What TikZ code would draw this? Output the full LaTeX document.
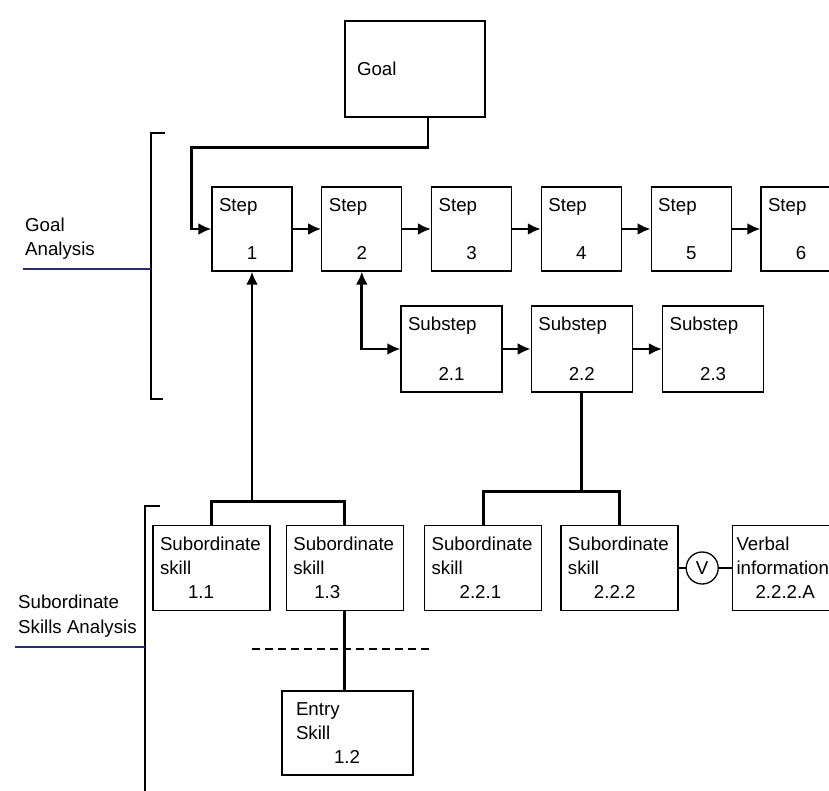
\documentclass[tikz,border=0pt]{standalone}
\usepackage{fontspec}
\setmainfont{Liberation Sans}
\usetikzlibrary{positioning, arrows.meta}
\definecolor{inkblue}{RGB}{45,45,110}
\newcommand{\boxnum}[1]{\makebox[\hsize]{#1}}
\tikzset{
  box/.style={draw=black, line width=1.3pt, align=left, inner ysep=0pt},
  stepbox/.style={box, text width=66pt, inner xsep=7pt, minimum height=84pt},
  substepbox/.style={box, text width=87pt, inner xsep=7pt, minimum height=86pt},
  skillbox/.style={box, text width=103pt, inner xsep=7pt, minimum height=85pt},
  link/.style={line width=2.8pt},
  arr/.style={link, -{Latex[length=13pt, width=12pt]}},
  arrboth/.style={link, {Latex[length=13pt, width=12pt]}-{Latex[length=13pt, width=12pt]}},
  bracket/.style={line width=1.2pt},
  underline/.style={line width=1.4pt, draw=inkblue},
  divider/.style={line width=2.4pt, dash pattern=on 8pt off 5pt},
  analysis/.style={align=left, anchor=north west, inner sep=0pt},
}

\begin{document}
\begin{tikzpicture}[x=1pt, y=-1pt, font=\fontsize{18.7pt}{24pt}\selectfont]
  \useasboundingbox (0,0) rectangle (829,791);

  % goal and steps
  \node[box, text width=116pt, inner xsep=12pt, minimum height=96pt] (goal) at (415,69) {Goal};
  \node[stepbox] (s1) at (252,229) {Step\\[24pt]\boxnum{1}};
  \node[stepbox, right=28.5pt of s1] (s2) {Step\\[24pt]\boxnum{2}};
  \node[stepbox, right=28.5pt of s2] (s3) {Step\\[24pt]\boxnum{3}};
  \node[stepbox, right=28.5pt of s3] (s4) {Step\\[24pt]\boxnum{4}};
  \node[stepbox, right=28.5pt of s4] (s5) {Step\\[24pt]\boxnum{5}};
  \node[stepbox, right=28.5pt of s5] (s6) {Step\\[24pt]\boxnum{6}};

  % substeps
  \node[substepbox] (ss21) at (451.5,349) {Substep\\[26pt]\boxnum{2.1}};
  \node[substepbox, right=28pt of ss21] (ss22) {Substep\\[26pt]\boxnum{2.2}};
  \node[substepbox, right=29pt of ss22] (ss23) {Substep\\[26pt]\boxnum{2.3}};

  % subordinate skills
  \node[skillbox] (sk11) at (211.5,568) {Subordinate\\skill\\\hspace*{28pt}1.1};
  \node[skillbox, right=15pt of sk11] (sk13) {Subordinate\\skill\\\hspace*{21pt}1.3};
  \node[skillbox, right=20pt of sk13] (sk221) {Subordinate\\skill\\\hspace*{28pt}2.2.1};
  \node[skillbox, right=18pt of sk221] (sk222) {Subordinate\\skill\\\hspace*{26pt}2.2.2};
  \node[draw, circle, line width=1.3pt, minimum size=32pt, inner sep=0pt, right=7pt of sk222] (vcirc) {V};
  \node[box, text width=94pt, inner xsep=4pt, minimum height=85pt, right=13pt of vcirc] (verbal) {Verbal\\information\\\hspace*{19pt}2.2.2.A};
  \node[box, text width=103pt, inner xsep=14pt, minimum height=84pt] (entry) at (347.5,733) {Entry\\Skill\\\hspace*{38pt}1.2};

  % connectors
  \draw[arr] ([xshift=13pt]goal.south) -- ++(0,30) -| ([xshift=-20pt]s1.west) -- (s1.west);
  \draw[arr] (s1.east) -- (s2.west);
  \draw[arr] (s2.east) -- (s3.west);
  \draw[arr] (s3.east) -- (s4.west);
  \draw[arr] (s4.east) -- (s5.west);
  \draw[arr] (s5.east) -- (s6.west);
  \draw[arrboth] (s2.south) |- (ss21.west);
  \draw[arr] (ss21.east) -- (ss22.west);
  \draw[arr] (ss22.east) -- (ss23.west);

  \coordinate (b1) at ([yshift=-230pt]s1.south);
  \draw[arr] (b1) -- (s1.south);
  \draw[link] (sk11.north) |- (b1) -| (sk13.north);
  \draw[link] (ss22.south) -- ++(0,99) coordinate (b22);
  \draw[link] (sk221.north) |- (b22) -| (sk222.north);
  \draw[link] (sk13.south) -- (sk13.south |- entry.north);
  \draw[line width=1.3pt] (sk222) -- (vcirc) -- (verbal);
  \draw[divider] (252,649) -- (430,649);

  % analysis brackets
  \node[analysis] (goalana) at (25,218) {Goal\\Analysis};
  \draw[bracket] (165,133) -- (151,133) -- (151,399) -- (163,399);
  \draw[underline] (23,269) -- (151,269);
  \node[analysis, font=\fontsize{18.7pt}{25pt}\selectfont] (subana) at (18,595) {Subordinate\\Skills Analysis};
  \draw[bracket] (160,506) -- (145,506) -- (145,795);
  \draw[underline] (15,647) -- (145,647);
\end{tikzpicture}
\end{document}
